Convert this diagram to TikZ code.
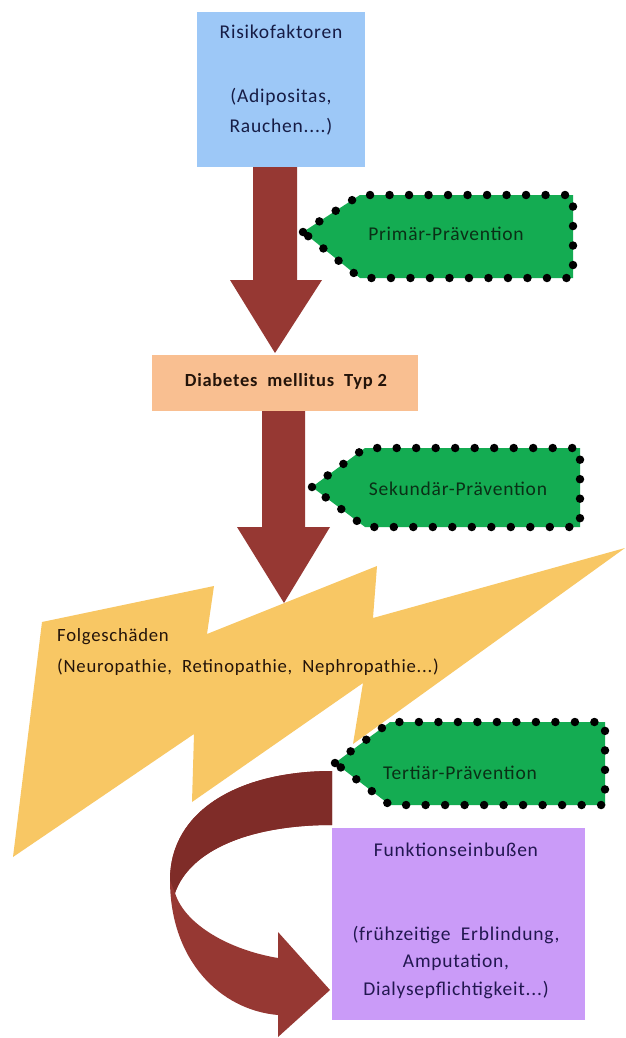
\documentclass[tikz,border=0pt]{standalone}
\usepackage{fontspec}
\setmainfont{Carlito}[LetterSpace=4]
\definecolor{riskblue}{HTML}{9DC8F7}
\definecolor{arrowred}{HTML}{963833}
\definecolor{arrowdark}{HTML}{7F2C28}
\definecolor{diabor}{HTML}{F9BF91}
\definecolor{prevgreen}{HTML}{14AC52}
\definecolor{boltyellow}{HTML}{F8C764}
\definecolor{funcpurple}{HTML}{CA9BF8}
\definecolor{navytext}{HTML}{161C45}
\definecolor{greentext}{HTML}{0A3016}
\definecolor{browntext}{HTML}{24140A}
\definecolor{purpletext}{HTML}{221750}
\begin{document}
\begin{tikzpicture}[x=1pt,y=-1pt,
  lbl/.style={font=\fontsize{19.5}{22}\selectfont, inner sep=0pt, anchor=center},
  boxshape/.style={draw=none, inner sep=0pt, rectangle},
  dotborder/.style={draw=black, line width=8.5pt, line cap=round, dash pattern=on 0pt off 19.5pt},
  blockarrow/.style={fill=arrowred, draw=none}]
\useasboundingbox (0,0) rectangle (625,1038);
\fill[white] (0,0) rectangle (625,1038);

% lightning bolt (Folgeschäden)
\fill[boltyellow] (42,622) -- (214,586) -- (207,634) -- (377,566) -- (373,618)
  -- (625,548) -- (353,744) -- (363,683) -- (192,802) -- (194,734) -- (13,857) -- cycle;
\node[lbl, font=\fontsize{18.7}{22}\selectfont, anchor=west, text=browntext] (folge) at (57,637) {Folgeschäden};
\node[lbl, font=\fontsize{18.7}{22}\selectfont, anchor=west, text=browntext] (folgelist) at (57,667) {(Neuropathie,\ \ Retinopathie,\ \ Nephropathie...)};

% boxes
\node[boxshape, fill=riskblue, minimum width=168pt, minimum height=155pt] (risk) at (281,89.5) {};
\node[lbl, text=navytext] (risk1) at (281,32) {Risikofaktoren};
\node[lbl, text=navytext] (risk2) at (281,97) {(Adipositas,};
\node[lbl, text=navytext] (risk3) at (281,127) {Rauchen....)};

\node[boxshape, fill=diabor, minimum width=266pt, minimum height=56pt] (diab) at (285,383) {};
\node[lbl, font=\fontsize{18.5}{22}\selectfont\bfseries, text=browntext] (diabt) at (286,381) {Diabetes\ \ mellitus\ \ Typ 2};

\node[boxshape, fill=funcpurple, minimum width=253pt, minimum height=192pt] (func) at (458.5,924) {};
\node[lbl, text=purpletext] (func1) at (456,850) {Funktionseinbußen};
\node[lbl, text=purpletext] (func2) at (456,935) {(frühzeitige\ \ Erblindung,};
\node[lbl, text=purpletext] (func3) at (456,962) {Amputation,};
\node[lbl, text=purpletext] (func4) at (456,990) {Dialysepflichtigkeit...)};

% straight block arrows
\fill[blockarrow] (253,167) -- (297,167) -- (297,280) -- (322,280) -- (275,353) -- (230,280) -- (253,280) -- cycle;
\fill[blockarrow] (262,411) -- (305,411) -- (305,527) -- (330,527) -- (284,603) -- (237,527) -- (262,527) -- cycle;

% curved arrow to Funktionseinbußen
\fill[arrowred] (332,771) .. controls (240,771) and (170,810) .. (170,880)
  .. controls (170,960) and (220,1010) .. (278,1015)
  -- (278,1037) -- (330,990) -- (278,932) -- (278,958)
  .. controls (230,950) and (185,925) .. (175,893)
  .. controls (190,850) and (250,825) .. (332,825) -- cycle;
\fill[arrowdark] (332,771) .. controls (240,771) and (170,810) .. (170,880)
  -- (175,893)
  .. controls (190,850) and (250,825) .. (332,825) -- cycle;

% prevention pentagons
\path[fill=prevgreen, dotborder] (303,232) -- (360,195) -- (573,195) -- (573,278) -- (360,278) -- cycle;
\node[lbl, text=greentext] (prim) at (446,234) {Primär-Prävention};
\path[fill=prevgreen, dotborder] (312,487) -- (365,448) -- (580,448) -- (580,527) -- (365,527) -- cycle;
\node[lbl, text=greentext] (sek) at (458,489) {Sekundär-Prävention};
\path[fill=prevgreen, dotborder] (335,763) -- (390,722) -- (605,722) -- (605,805) -- (390,805) -- cycle;
\node[lbl, text=greentext] (tert) at (460,773) {Tertiär-Prävention};
\end{tikzpicture}
\end{document}
